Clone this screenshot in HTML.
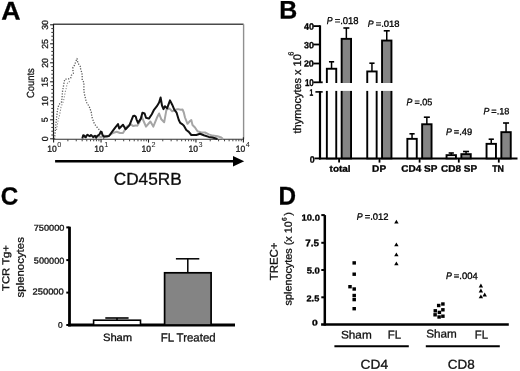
<!DOCTYPE html>
<html><head><meta charset="utf-8"><style>
html,body{margin:0;padding:0;background:#fff;}
body{width:520px;height:371px;overflow:hidden;}
svg{display:block;font-family:"Liberation Sans", sans-serif;text-rendering:geometricPrecision;will-change:transform;}
</style></head><body>
<svg width="520" height="371" viewBox="0 0 520 371">
<rect width="520" height="371" fill="#fff"/>
<text transform="translate(1.14 19.4) rotate(0.05) scale(1.0489 1)" font-size="25.44" fill="#000" stroke="#000" stroke-width="0.3"><tspan x="0" y="0" font-weight="bold">A</tspan></text>
<line x1="53.5" y1="24.3" x2="243.6" y2="24.3" stroke="#4a4a4a" stroke-width="1.6"/>
<line x1="243.6" y1="24.3" x2="243.6" y2="139.3" stroke="#909090" stroke-width="1.4"/>
<line x1="53.5" y1="23.8" x2="53.5" y2="139.8" stroke="#151515" stroke-width="1.2"/>
<line x1="53" y1="139.3" x2="243.6" y2="139.3" stroke="#303030" stroke-width="1.1"/>
<line x1="50.1" y1="138.8" x2="53.5" y2="138.8" stroke="#222" stroke-width="1.1"/>
<line x1="51.3" y1="135" x2="54" y2="135" stroke="#333" stroke-width="1.0"/>
<line x1="51.3" y1="131.2" x2="54" y2="131.2" stroke="#333" stroke-width="1.0"/>
<line x1="51.3" y1="127.4" x2="54" y2="127.4" stroke="#333" stroke-width="1.0"/>
<line x1="51.3" y1="123.6" x2="54" y2="123.6" stroke="#333" stroke-width="1.0"/>
<line x1="50.1" y1="119.8" x2="53.5" y2="119.8" stroke="#222" stroke-width="1.1"/>
<line x1="51.3" y1="116" x2="54" y2="116" stroke="#333" stroke-width="1.0"/>
<line x1="51.3" y1="112.2" x2="54" y2="112.2" stroke="#333" stroke-width="1.0"/>
<line x1="51.3" y1="108.4" x2="54" y2="108.4" stroke="#333" stroke-width="1.0"/>
<line x1="51.3" y1="104.6" x2="54" y2="104.6" stroke="#333" stroke-width="1.0"/>
<line x1="50.1" y1="100.8" x2="53.5" y2="100.8" stroke="#222" stroke-width="1.1"/>
<line x1="51.3" y1="97" x2="54" y2="97" stroke="#333" stroke-width="1.0"/>
<line x1="51.3" y1="93.2" x2="54" y2="93.2" stroke="#333" stroke-width="1.0"/>
<line x1="51.3" y1="89.4" x2="54" y2="89.4" stroke="#333" stroke-width="1.0"/>
<line x1="51.3" y1="85.6" x2="54" y2="85.6" stroke="#333" stroke-width="1.0"/>
<line x1="50.1" y1="81.8" x2="53.5" y2="81.8" stroke="#222" stroke-width="1.1"/>
<line x1="51.3" y1="78" x2="54" y2="78" stroke="#333" stroke-width="1.0"/>
<line x1="51.3" y1="74.2" x2="54" y2="74.2" stroke="#333" stroke-width="1.0"/>
<line x1="51.3" y1="70.4" x2="54" y2="70.4" stroke="#333" stroke-width="1.0"/>
<line x1="51.3" y1="66.6" x2="54" y2="66.6" stroke="#333" stroke-width="1.0"/>
<line x1="50.1" y1="62.8" x2="53.5" y2="62.8" stroke="#222" stroke-width="1.1"/>
<line x1="51.3" y1="59" x2="54" y2="59" stroke="#333" stroke-width="1.0"/>
<line x1="51.3" y1="55.2" x2="54" y2="55.2" stroke="#333" stroke-width="1.0"/>
<line x1="51.3" y1="51.4" x2="54" y2="51.4" stroke="#333" stroke-width="1.0"/>
<line x1="51.3" y1="47.6" x2="54" y2="47.6" stroke="#333" stroke-width="1.0"/>
<line x1="50.1" y1="43.8" x2="53.5" y2="43.8" stroke="#222" stroke-width="1.1"/>
<line x1="51.3" y1="40" x2="54" y2="40" stroke="#333" stroke-width="1.0"/>
<line x1="51.3" y1="36.2" x2="54" y2="36.2" stroke="#333" stroke-width="1.0"/>
<line x1="51.3" y1="32.4" x2="54" y2="32.4" stroke="#333" stroke-width="1.0"/>
<line x1="51.3" y1="28.6" x2="54" y2="28.6" stroke="#333" stroke-width="1.0"/>
<line x1="50.1" y1="24.8" x2="53.5" y2="24.8" stroke="#222" stroke-width="1.1"/>
<text transform="translate(47.94 141.35) rotate(-89.95) scale(1.0000 1)" font-size="8.8" fill="#1a1a1a" stroke="#1a1a1a" stroke-width="0.3"><tspan x="0" y="0">0</tspan></text>
<text transform="translate(47.85 122.34) rotate(-89.95) scale(1.0000 1)" font-size="8.8" fill="#1a1a1a" stroke="#1a1a1a" stroke-width="0.3"><tspan x="0" y="0">5</tspan></text>
<text transform="translate(47.94 105.96) rotate(-89.95) scale(1.0000 1)" font-size="8.8" fill="#1a1a1a" stroke="#1a1a1a" stroke-width="0.3"><tspan x="0" y="0">10</tspan></text>
<text transform="translate(47.85 86.94) rotate(-89.95) scale(1.0000 1)" font-size="8.8" fill="#1a1a1a" stroke="#1a1a1a" stroke-width="0.3"><tspan x="0" y="0">15</tspan></text>
<text transform="translate(47.94 67.84) rotate(-89.95) scale(1.0000 1)" font-size="8.8" fill="#1a1a1a" stroke="#1a1a1a" stroke-width="0.3"><tspan x="0" y="0">20</tspan></text>
<text transform="translate(47.94 48.83) rotate(-89.95) scale(1.0000 1)" font-size="8.8" fill="#1a1a1a" stroke="#1a1a1a" stroke-width="0.3"><tspan x="0" y="0">25</tspan></text>
<text transform="translate(47.94 29.79) rotate(-89.95) scale(1.0000 1)" font-size="8.8" fill="#1a1a1a" stroke="#1a1a1a" stroke-width="0.3"><tspan x="0" y="0">30</tspan></text>
<text transform="translate(34 98.08) rotate(-89.95) scale(0.9159 1)" font-size="10.31" fill="#1a1a1a" stroke="#1a1a1a" stroke-width="0.3"><tspan x="0" y="0">Counts</tspan></text>
<line x1="53.6" y1="139.3" x2="53.6" y2="142.6" stroke="#222" stroke-width="1.1"/>
<line x1="67.88" y1="139.3" x2="67.88" y2="141.3" stroke="#444" stroke-width="1.0"/>
<line x1="76.24" y1="139.3" x2="76.24" y2="141.3" stroke="#444" stroke-width="1.0"/>
<line x1="82.17" y1="139.3" x2="82.17" y2="141.3" stroke="#444" stroke-width="1.0"/>
<line x1="86.77" y1="139.3" x2="86.77" y2="141.3" stroke="#444" stroke-width="1.0"/>
<line x1="90.52" y1="139.3" x2="90.52" y2="141.3" stroke="#444" stroke-width="1.0"/>
<line x1="93.7" y1="139.3" x2="93.7" y2="141.3" stroke="#444" stroke-width="1.0"/>
<line x1="96.45" y1="139.3" x2="96.45" y2="141.3" stroke="#444" stroke-width="1.0"/>
<line x1="98.88" y1="139.3" x2="98.88" y2="141.3" stroke="#444" stroke-width="1.0"/>
<line x1="101.05" y1="139.3" x2="101.05" y2="142.6" stroke="#222" stroke-width="1.1"/>
<line x1="115.33" y1="139.3" x2="115.33" y2="141.3" stroke="#444" stroke-width="1.0"/>
<line x1="123.69" y1="139.3" x2="123.69" y2="141.3" stroke="#444" stroke-width="1.0"/>
<line x1="129.62" y1="139.3" x2="129.62" y2="141.3" stroke="#444" stroke-width="1.0"/>
<line x1="134.22" y1="139.3" x2="134.22" y2="141.3" stroke="#444" stroke-width="1.0"/>
<line x1="137.97" y1="139.3" x2="137.97" y2="141.3" stroke="#444" stroke-width="1.0"/>
<line x1="141.15" y1="139.3" x2="141.15" y2="141.3" stroke="#444" stroke-width="1.0"/>
<line x1="143.9" y1="139.3" x2="143.9" y2="141.3" stroke="#444" stroke-width="1.0"/>
<line x1="146.33" y1="139.3" x2="146.33" y2="141.3" stroke="#444" stroke-width="1.0"/>
<line x1="148.5" y1="139.3" x2="148.5" y2="142.6" stroke="#222" stroke-width="1.1"/>
<line x1="162.78" y1="139.3" x2="162.78" y2="141.3" stroke="#444" stroke-width="1.0"/>
<line x1="171.14" y1="139.3" x2="171.14" y2="141.3" stroke="#444" stroke-width="1.0"/>
<line x1="177.07" y1="139.3" x2="177.07" y2="141.3" stroke="#444" stroke-width="1.0"/>
<line x1="181.67" y1="139.3" x2="181.67" y2="141.3" stroke="#444" stroke-width="1.0"/>
<line x1="185.42" y1="139.3" x2="185.42" y2="141.3" stroke="#444" stroke-width="1.0"/>
<line x1="188.6" y1="139.3" x2="188.6" y2="141.3" stroke="#444" stroke-width="1.0"/>
<line x1="191.35" y1="139.3" x2="191.35" y2="141.3" stroke="#444" stroke-width="1.0"/>
<line x1="193.78" y1="139.3" x2="193.78" y2="141.3" stroke="#444" stroke-width="1.0"/>
<line x1="195.95" y1="139.3" x2="195.95" y2="142.6" stroke="#222" stroke-width="1.1"/>
<line x1="210.23" y1="139.3" x2="210.23" y2="141.3" stroke="#444" stroke-width="1.0"/>
<line x1="218.59" y1="139.3" x2="218.59" y2="141.3" stroke="#444" stroke-width="1.0"/>
<line x1="224.52" y1="139.3" x2="224.52" y2="141.3" stroke="#444" stroke-width="1.0"/>
<line x1="229.12" y1="139.3" x2="229.12" y2="141.3" stroke="#444" stroke-width="1.0"/>
<line x1="232.87" y1="139.3" x2="232.87" y2="141.3" stroke="#444" stroke-width="1.0"/>
<line x1="236.05" y1="139.3" x2="236.05" y2="141.3" stroke="#444" stroke-width="1.0"/>
<line x1="238.8" y1="139.3" x2="238.8" y2="141.3" stroke="#444" stroke-width="1.0"/>
<line x1="241.23" y1="139.3" x2="241.23" y2="141.3" stroke="#444" stroke-width="1.0"/>
<line x1="243.4" y1="137.3" x2="243.4" y2="142.6" stroke="#222" stroke-width="1.1"/>
<text transform="translate(47.25 151.81) rotate(0.05) scale(0.9735 1)" font-size="8.76" fill="#1a1a1a" stroke="#1a1a1a" stroke-width="0.3"><tspan x="0" y="0">10</tspan></text>
<text x="57.27" y="147.3" font-size="7.3" fill="#1a1a1a">0</text>
<text transform="translate(94.35 151.81) rotate(0.05) scale(0.9735 1)" font-size="8.76" fill="#1a1a1a" stroke="#1a1a1a" stroke-width="0.3"><tspan x="0" y="0">10</tspan></text>
<text x="104.37" y="147.3" font-size="7.3" fill="#1a1a1a">1</text>
<text transform="translate(141.45 151.81) rotate(0.05) scale(0.9735 1)" font-size="8.76" fill="#1a1a1a" stroke="#1a1a1a" stroke-width="0.3"><tspan x="0" y="0">10</tspan></text>
<text x="151.47" y="147.3" font-size="7.3" fill="#1a1a1a">2</text>
<text transform="translate(188.55 151.81) rotate(0.05) scale(0.9735 1)" font-size="8.76" fill="#1a1a1a" stroke="#1a1a1a" stroke-width="0.3"><tspan x="0" y="0">10</tspan></text>
<text x="198.57" y="147.3" font-size="7.3" fill="#1a1a1a">3</text>
<text transform="translate(235.65 151.81) rotate(0.05) scale(0.9735 1)" font-size="8.76" fill="#1a1a1a" stroke="#1a1a1a" stroke-width="0.3"><tspan x="0" y="0">10</tspan></text>
<text x="245.67" y="147.3" font-size="7.3" fill="#1a1a1a">4</text>
<line x1="55.1" y1="161.2" x2="234" y2="161.2" stroke="#000" stroke-width="2.4"/>
<polygon points="233,155.9 244.2,161.2 233,166.6" fill="#000"/>
<text transform="translate(113.73 184.73) rotate(0.05) scale(0.9999 1)" font-size="17.23" fill="#0a0a0a" stroke="#0a0a0a" stroke-width="0.3"><tspan x="0" y="0">CD45RB</tspan></text>
<polyline points="54.5,139 55.2,132 56,123 56.7,117 57.4,110.2 58.8,104.8 61.5,102 62.1,97 62.6,90.5 63.2,87.8 63.7,84.6 64.2,81.9 64.8,79.2 68,79.2 70.7,78.1 71.3,75.4 73.4,73.3 72.9,70 72.9,67.3 74.5,65.2 77,58.5 77.9,63 80.6,66.8 80.6,69.5 81.7,72.2 82.2,74.9 82.2,80.3 83.9,82.4 83.9,91 84.6,95 86.4,102.2 89.2,106.5 91.2,111.9 92,117.3 93.9,122.7 95.8,125.9 98.3,128.6 100.6,131.3 102.5,136 103.8,139" fill="none" stroke="#5a5a5a" stroke-width="1.3" stroke-linejoin="round" stroke-dasharray="1.2 1.5"/>
<polyline points="56.5,130 58,121 60,113 61,107 63.5,101 65.3,91.6 66.4,87.8 66.9,84.6 68,81.9 71.3,81.4" fill="none" stroke="#888" stroke-width="1.1" stroke-linejoin="round" stroke-dasharray="1.2 1.6"/>
<polyline points="92.5,138.6 94,136.2 97.7,136.1 99,136.6 101,137 104.8,135.6 107.1,136.5 108.9,135.7 112.9,133 116.7,131.7 120,133 123,133 126.8,126.6 130.6,124.1 133,126 135.7,125.4 137.3,125.8 139.5,122.2 141.6,116.4 144,122 146,126.6 150.4,121.5 153.3,126.6 156.9,117.8 159.1,113.5 161.3,119.3 164.2,122.2 166.4,109.8 169.3,108.4 172.2,111.3 175.1,109.8 178,109.1 180.9,109.8 182.5,109.4 183.8,112.5 185,117.5 187.5,123.8 190,121 191.3,120 192.5,125 195,127.5 197.5,131.3 201.3,132.5 205,132.5 208.8,134.4 212.5,135.6 217.5,136.3 221.3,137.5 223,139" fill="none" stroke="#a5a5a5" stroke-width="2.0" stroke-linejoin="round"/>
<polyline points="82.3,138.5 83.2,135.2 84,135.4 84.9,136.8 85.8,137.3 86.6,135.5 87.5,134.8 88.7,135.6 89.8,136.2 91,135 92.1,136 93.3,137 95,135.8 96.2,137.6 97.3,136 98.5,135.2 99.6,134.2 100.8,131.6 101.6,131.9 102.5,134.8 104,136.8 109,136 113.5,129.8 115.4,127.3 118,124.1 119.2,128.5 123,124.7 125.6,129.2 129.4,125.4 133.2,115.9 134.4,115.7 135.7,116.5 136.5,119.3 138,122.9 140.9,118.6 142.4,112.7 144.6,113.5 146,117.8 148.9,118.6 151.8,114.2 154,109.8 156.9,106.2 159.1,102.6 160.6,97.5 162,105.5 163.5,109.1 164.9,106.2 167.1,108.4 170,100.4 172.2,104.7 174.4,109.8 176.6,112.7 178.8,120 180.2,122.9 182.5,124.4 183.9,125.8 186.3,130 188.8,131.9 191.3,135 196.3,135 200,133.8 203.8,135.3 208.8,136.9 212.5,137.5 217.5,139" fill="none" stroke="#111" stroke-width="2.0" stroke-linejoin="round"/>
<text transform="translate(279.13 18.4) rotate(0.05) scale(0.9855 1)" font-size="25.29" fill="#000" stroke="#000" stroke-width="0.3"><tspan x="0" y="0" font-weight="bold">B</tspan></text>
<line x1="320" y1="25.3" x2="320" y2="82.9" stroke="#000" stroke-width="2.2"/>
<line x1="320" y1="91.2" x2="320" y2="159.4" stroke="#000" stroke-width="2.2"/>
<line x1="313.3" y1="26.1" x2="320" y2="26.1" stroke="#000" stroke-width="1.8"/>
<line x1="313.3" y1="44.5" x2="320" y2="44.5" stroke="#000" stroke-width="1.8"/>
<line x1="313.3" y1="63.5" x2="320" y2="63.5" stroke="#000" stroke-width="1.8"/>
<line x1="313.3" y1="82.3" x2="320" y2="82.3" stroke="#000" stroke-width="1.8"/>
<line x1="320" y1="82.3" x2="322.7" y2="82.3" stroke="#000" stroke-width="1.8"/>
<line x1="315.4" y1="91.9" x2="322.7" y2="91.9" stroke="#000" stroke-width="1.6"/>
<line x1="314.5" y1="158.4" x2="320" y2="158.4" stroke="#000" stroke-width="1.8"/>
<text transform="translate(304.07 29.81) rotate(0.05) scale(0.9548 1)" font-size="9.32" fill="#000" stroke="#000" stroke-width="0.3"><tspan x="0" y="0" font-weight="bold">40</tspan></text>
<text transform="translate(303.99 48.2) rotate(0.05) scale(0.9940 1)" font-size="9.02" fill="#000" stroke="#000" stroke-width="0.3"><tspan x="0" y="0" font-weight="bold">30</tspan></text>
<text transform="translate(303.89 66.61) rotate(0.05) scale(1.0082 1)" font-size="8.9" fill="#000" stroke="#000" stroke-width="0.3"><tspan x="0" y="0" font-weight="bold">20</tspan></text>
<text transform="translate(304.89 86.1) rotate(0.05) scale(0.8125 1)" font-size="9.89" fill="#000" stroke="#000" stroke-width="0.3"><tspan x="0" y="0" font-weight="bold">10</tspan></text>
<text transform="translate(309.58 95.8) rotate(0.05) scale(0.6944 1)" font-size="9.59" fill="#000" stroke="#000" stroke-width="0.3"><tspan x="0" y="0" font-weight="bold">1</tspan></text>
<text transform="translate(309.65 162.81) rotate(0.05) scale(0.9474 1)" font-size="9.32" fill="#000" stroke="#000" stroke-width="0.3"><tspan x="0" y="0" font-weight="bold">0</tspan></text>
<line x1="318.9" y1="158.4" x2="517.5" y2="158.4" stroke="#000" stroke-width="2.0"/>
<line x1="339.1" y1="158.4" x2="339.1" y2="162.6" stroke="#000" stroke-width="1.8"/>
<line x1="379.5" y1="158.4" x2="379.5" y2="162.6" stroke="#000" stroke-width="1.8"/>
<line x1="419.6" y1="158.4" x2="419.6" y2="162.6" stroke="#000" stroke-width="1.8"/>
<line x1="458.8" y1="158.4" x2="458.8" y2="162.6" stroke="#000" stroke-width="1.8"/>
<line x1="498.8" y1="158.4" x2="498.8" y2="162.6" stroke="#000" stroke-width="1.8"/>
<line x1="331.55" y1="61.8" x2="331.55" y2="68.8" stroke="#000" stroke-width="1.5"/>
<line x1="328.95" y1="61.8" x2="334.15" y2="61.8" stroke="#000" stroke-width="1.6"/>
<rect x="326.85" y="68.75" width="9.4" height="89.65" fill="#fff" stroke="#000" stroke-width="1.9"/>
<rect x="324.9" y="83" width="13.3" height="7.9" fill="#fff"/>
<line x1="346.35" y1="28" x2="346.35" y2="38.9" stroke="#000" stroke-width="1.5"/>
<line x1="343.35" y1="28" x2="349.35" y2="28" stroke="#000" stroke-width="1.6"/>
<rect x="341.65" y="38.85" width="9.4" height="119.55" fill="#858585" stroke="#000" stroke-width="1.9"/>
<rect x="339.7" y="83" width="13.3" height="7.9" fill="#fff"/>
<line x1="371.95" y1="63.2" x2="371.95" y2="71.5" stroke="#000" stroke-width="1.5"/>
<line x1="369.35" y1="63.2" x2="374.55" y2="63.2" stroke="#000" stroke-width="1.6"/>
<rect x="367.25" y="71.45" width="9.4" height="86.95" fill="#fff" stroke="#000" stroke-width="1.9"/>
<rect x="365.3" y="83" width="13.3" height="7.9" fill="#fff"/>
<line x1="386.75" y1="30.8" x2="386.75" y2="40.6" stroke="#000" stroke-width="1.5"/>
<line x1="383.75" y1="30.8" x2="389.75" y2="30.8" stroke="#000" stroke-width="1.6"/>
<rect x="382.05" y="40.55" width="9.4" height="117.85" fill="#858585" stroke="#000" stroke-width="1.9"/>
<rect x="380.1" y="83" width="13.3" height="7.9" fill="#fff"/>
<line x1="412.05" y1="133.8" x2="412.05" y2="138.9" stroke="#000" stroke-width="1.5"/>
<line x1="409.45" y1="133.8" x2="414.65" y2="133.8" stroke="#000" stroke-width="1.6"/>
<rect x="407.35" y="138.85" width="9.4" height="19.55" fill="#fff" stroke="#000" stroke-width="1.9"/>
<line x1="426.85" y1="117.2" x2="426.85" y2="124.3" stroke="#000" stroke-width="1.5"/>
<line x1="423.85" y1="117.2" x2="429.85" y2="117.2" stroke="#000" stroke-width="1.6"/>
<rect x="422.15" y="124.25" width="9.4" height="34.15" fill="#858585" stroke="#000" stroke-width="1.9"/>
<line x1="451.25" y1="153" x2="451.25" y2="155.2" stroke="#000" stroke-width="1.5"/>
<line x1="448.65" y1="153" x2="453.85" y2="153" stroke="#000" stroke-width="1.6"/>
<rect x="446.55" y="155.15" width="9.4" height="3.25" fill="#fff" stroke="#000" stroke-width="1.9"/>
<line x1="466.05" y1="151.5" x2="466.05" y2="154.2" stroke="#000" stroke-width="1.5"/>
<line x1="463.05" y1="151.5" x2="469.05" y2="151.5" stroke="#000" stroke-width="1.6"/>
<rect x="461.35" y="154.15" width="9.4" height="4.25" fill="#858585" stroke="#000" stroke-width="1.9"/>
<line x1="491.25" y1="139.2" x2="491.25" y2="143.9" stroke="#000" stroke-width="1.5"/>
<line x1="488.65" y1="139.2" x2="493.85" y2="139.2" stroke="#000" stroke-width="1.6"/>
<rect x="486.55" y="143.85" width="9.4" height="14.55" fill="#fff" stroke="#000" stroke-width="1.9"/>
<line x1="506.05" y1="123" x2="506.05" y2="132.2" stroke="#000" stroke-width="1.5"/>
<line x1="503.05" y1="123" x2="509.05" y2="123" stroke="#000" stroke-width="1.6"/>
<rect x="501.35" y="132.15" width="9.4" height="26.25" fill="#858585" stroke="#000" stroke-width="1.9"/>
<text transform="translate(326.73 24.1) rotate(0.05) scale(0.8706 1)" font-size="10.03" fill="#000" stroke="#000" stroke-width="0.3"><tspan x="0" y="0" font-style="italic">P</tspan></text>
<text transform="translate(334.64 24.1) rotate(0.05) scale(0.9583 1)" font-size="9.89" fill="#000" stroke="#000" stroke-width="0.3"><tspan x="0" y="0">=.018</tspan></text>
<text transform="translate(367.73 26.8) rotate(0.05) scale(0.9689 1)" font-size="9.01" fill="#000" stroke="#000" stroke-width="0.3"><tspan x="0" y="0" font-style="italic">P</tspan></text>
<text transform="translate(375.64 26.81) rotate(0.05) scale(1.0648 1)" font-size="8.9" fill="#000" stroke="#000" stroke-width="0.3"><tspan x="0" y="0">=.018</tspan></text>
<text transform="translate(406.53 105.3) rotate(0.05) scale(0.9242 1)" font-size="9.45" fill="#000" stroke="#000" stroke-width="0.3"><tspan x="0" y="0" font-style="italic">P</tspan></text>
<text transform="translate(414.46 105.31) rotate(0.05) scale(0.9683 1)" font-size="9.32" fill="#000" stroke="#000" stroke-width="0.3"><tspan x="0" y="0">=.05</tspan></text>
<text transform="translate(445.93 135.1) rotate(0.05) scale(0.9102 1)" font-size="9.59" fill="#000" stroke="#000" stroke-width="0.3"><tspan x="0" y="0" font-style="italic">P</tspan></text>
<text transform="translate(453.84 135.11) rotate(0.05) scale(0.9847 1)" font-size="9.46" fill="#000" stroke="#000" stroke-width="0.3"><tspan x="0" y="0">=.49</tspan></text>
<text transform="translate(483.43 114.3) rotate(0.05) scale(0.9535 1)" font-size="9.16" fill="#000" stroke="#000" stroke-width="0.3"><tspan x="0" y="0" font-style="italic">P</tspan></text>
<text transform="translate(491.35 114.31) rotate(0.05) scale(1.0170 1)" font-size="9.04" fill="#000" stroke="#000" stroke-width="0.3"><tspan x="0" y="0">=.18</tspan></text>
<text transform="translate(329.58 171.71) rotate(0.05) scale(1.0918 1)" font-size="9.12" fill="#000" stroke="#000" stroke-width="0.3"><tspan x="0" y="0" font-weight="bold">total</tspan></text>
<text transform="translate(372.12 171.8) rotate(0.05) scale(1.0849 1)" font-size="9.3" fill="#000" stroke="#000" stroke-width="0.3"><tspan x="0" y="0" font-weight="bold">DP</tspan></text>
<text transform="translate(401.29 171.71) rotate(0.05) scale(1.0546 1)" font-size="9.46" fill="#000" stroke="#000" stroke-width="0.3"><tspan x="0" y="0" font-weight="bold">CD4 SP</tspan></text>
<text transform="translate(441.09 171.71) rotate(0.05) scale(1.0576 1)" font-size="9.46" fill="#000" stroke="#000" stroke-width="0.3"><tspan x="0" y="0" font-weight="bold">CD8 SP</tspan></text>
<text transform="translate(492.2 171.8) rotate(0.05) scale(0.9512 1)" font-size="9.3" fill="#000" stroke="#000" stroke-width="0.3"><tspan x="0" y="0" font-weight="bold">TN</tspan></text>
<text transform="translate(300.9 133.47) rotate(-89.95) scale(0.9977 1)" font-size="11" fill="#111" stroke="#111" stroke-width="0.3"><tspan x="0" y="0">thymocytes x 10</tspan></text>
<text transform="translate(293.4 55.68) rotate(-89.95) scale(1.0000 1)" font-size="7.4" fill="#111" stroke="#111" stroke-width="0.3"><tspan x="0" y="0">6</tspan></text>
<text transform="translate(0.81 204.46) rotate(0.05) scale(0.9721 1)" font-size="24.86" fill="#000" stroke="#000" stroke-width="0.3"><tspan x="0" y="0" font-weight="bold">C</tspan></text>
<line x1="69.5" y1="226.7" x2="69.5" y2="326.4" stroke="#000" stroke-width="2.8"/>
<line x1="66.3" y1="227.4" x2="69.5" y2="227.4" stroke="#000" stroke-width="2.0"/>
<line x1="66.3" y1="260.1" x2="69.5" y2="260.1" stroke="#000" stroke-width="2.0"/>
<line x1="66.3" y1="292.6" x2="69.5" y2="292.6" stroke="#000" stroke-width="2.0"/>
<line x1="66.3" y1="325" x2="69.5" y2="325" stroke="#000" stroke-width="2.0"/>
<text transform="translate(33.73 230.82) rotate(0.05) scale(1.0831 1)" font-size="8.47" fill="#111" stroke="#111" stroke-width="0.3"><tspan x="0" y="0">750000</tspan></text>
<text transform="translate(33.83 263.62) rotate(0.05) scale(1.0617 1)" font-size="8.62" fill="#111" stroke="#111" stroke-width="0.3"><tspan x="0" y="0">500000</tspan></text>
<text transform="translate(32.53 294.51) rotate(0.05) scale(1.0690 1)" font-size="8.76" fill="#111" stroke="#111" stroke-width="0.3"><tspan x="0" y="0">250000</tspan></text>
<text transform="translate(57.97 327.72) rotate(0.05) scale(1.0215 1)" font-size="8.19" fill="#111" stroke="#111" stroke-width="0.3"><tspan x="0" y="0">0</tspan></text>
<line x1="68.1" y1="325" x2="235" y2="325" stroke="#000" stroke-width="2.8"/>
<line x1="117" y1="318" x2="117" y2="320" stroke="#000" stroke-width="1.5"/>
<line x1="105.3" y1="318" x2="128.6" y2="318" stroke="#000" stroke-width="1.6"/>
<rect x="93.6" y="320.2" width="46.9" height="4.8" fill="#fff" stroke="#000" stroke-width="1.6"/>
<line x1="187.8" y1="258.8" x2="187.8" y2="272.5" stroke="#000" stroke-width="1.5"/>
<line x1="175.9" y1="258.8" x2="199.3" y2="258.8" stroke="#000" stroke-width="1.5"/>
<rect x="164.6" y="272.8" width="46.5" height="52.2" fill="#848484" stroke="#000" stroke-width="1.7"/>
<text transform="translate(102.89 341.1) rotate(0.05) scale(1.0578 1)" font-size="10.62" fill="#111" stroke="#111" stroke-width="0.3"><tspan x="0" y="0">Sham</tspan></text>
<text transform="translate(160.66 341.58) rotate(0.05) scale(0.9678 1)" font-size="11.85" fill="#111" stroke="#111" stroke-width="0.3"><tspan x="0" y="0">FL Treated</tspan></text>
<text transform="translate(9.22 290.95) rotate(-89.95) scale(1.1238 1)" font-size="10.05" fill="#111" stroke="#111" stroke-width="0.3"><tspan x="0" y="0">TCR Tg+</tspan></text>
<text transform="translate(23.7 297.42) rotate(-89.95) scale(1.0757 1)" font-size="10.62" fill="#111" stroke="#111" stroke-width="0.3"><tspan x="0" y="0">splenocytes</tspan></text>
<text transform="translate(278.47 204.5) rotate(0.05) scale(0.9497 1)" font-size="25.58" fill="#000" stroke="#000" stroke-width="0.3"><tspan x="0" y="0" font-weight="bold">D</tspan></text>
<line x1="324.8" y1="215.1" x2="324.8" y2="325.6" stroke="#000" stroke-width="2.5"/>
<line x1="321.3" y1="215.1" x2="324.8" y2="215.1" stroke="#000" stroke-width="2.0"/>
<line x1="321.3" y1="242.8" x2="324.8" y2="242.8" stroke="#000" stroke-width="2.0"/>
<line x1="321.3" y1="270" x2="324.8" y2="270" stroke="#000" stroke-width="2.0"/>
<line x1="321.3" y1="297.3" x2="324.8" y2="297.3" stroke="#000" stroke-width="2.0"/>
<text transform="translate(301.51 220.62) rotate(0.05) scale(1.0962 1)" font-size="8.62" fill="#000" stroke="#000" stroke-width="0.3"><tspan x="0" y="0" font-weight="bold">10.0</tspan></text>
<text transform="translate(305.27 246.21) rotate(0.05) scale(1.0497 1)" font-size="9.46" fill="#000" stroke="#000" stroke-width="0.3"><tspan x="0" y="0" font-weight="bold">7.5</tspan></text>
<text transform="translate(306.71 273.41) rotate(0.05) scale(1.0827 1)" font-size="8.76" fill="#000" stroke="#000" stroke-width="0.3"><tspan x="0" y="0" font-weight="bold">5.0</tspan></text>
<text transform="translate(306.48 301.22) rotate(0.05) scale(1.1027 1)" font-size="8.33" fill="#000" stroke="#000" stroke-width="0.3"><tspan x="0" y="0" font-weight="bold">2.5</tspan></text>
<text transform="translate(312.09 325.42) rotate(0.05) scale(1.2364 1)" font-size="8.33" fill="#000" stroke="#000" stroke-width="0.3"><tspan x="0" y="0" font-weight="bold">0</tspan></text>
<line x1="321.1" y1="324.4" x2="508.8" y2="324.4" stroke="#000" stroke-width="2.5"/>
<rect x="352.45" y="261.2" width="3.5" height="3.4" fill="#000"/>
<rect x="352.45" y="272.5" width="3.5" height="3.4" fill="#000"/>
<rect x="348.25" y="285" width="3.5" height="3.4" fill="#000"/>
<rect x="352.45" y="287.3" width="3.5" height="3.4" fill="#000"/>
<rect x="352.45" y="293.8" width="3.5" height="3.4" fill="#000"/>
<rect x="352.45" y="297.9" width="3.5" height="3.4" fill="#000"/>
<rect x="352.45" y="307" width="3.5" height="3.4" fill="#000"/>
<rect x="441.15" y="302.3" width="3.5" height="3.4" fill="#000"/>
<rect x="436.95" y="303.8" width="3.5" height="3.4" fill="#000"/>
<rect x="441.15" y="308.1" width="3.5" height="3.4" fill="#000"/>
<rect x="433.55" y="309.1" width="3.5" height="3.4" fill="#000"/>
<rect x="437.65" y="310.7" width="3.5" height="3.4" fill="#000"/>
<rect x="433.35" y="313.1" width="3.5" height="3.4" fill="#000"/>
<rect x="441.15" y="314.5" width="3.5" height="3.4" fill="#000"/>
<rect x="437.35" y="315.3" width="3.5" height="3.4" fill="#000"/>
<polygon points="394.2,223.6 398.6,223.6 396.4,219.8" fill="#000"/>
<polygon points="394.2,246.2 398.6,246.2 396.4,242.4" fill="#000"/>
<polygon points="394.2,256.3 398.6,256.3 396.4,252.5" fill="#000"/>
<polygon points="394.2,265.3 398.6,265.3 396.4,261.5" fill="#000"/>
<polygon points="478.7,287.4 483.1,287.4 480.9,283.6" fill="#000"/>
<polygon points="478.7,292.4 483.1,292.4 480.9,288.6" fill="#000"/>
<polygon points="482.5,296.4 486.9,296.4 484.7,292.6" fill="#000"/>
<polygon points="478.7,298.3 483.1,298.3 480.9,294.5" fill="#000"/>
<text transform="translate(356.73 219.8) rotate(0.05) scale(0.9387 1)" font-size="9.3" fill="#000" stroke="#000" stroke-width="0.3"><tspan x="0" y="0" font-style="italic">P</tspan></text>
<text transform="translate(364.64 219.81) rotate(0.05) scale(1.0260 1)" font-size="9.18" fill="#000" stroke="#000" stroke-width="0.3"><tspan x="0" y="0">=.012</tspan></text>
<text transform="translate(445.93 279.1) rotate(0.05) scale(0.9242 1)" font-size="9.45" fill="#000" stroke="#000" stroke-width="0.3"><tspan x="0" y="0" font-style="italic">P</tspan></text>
<text transform="translate(453.84 279.11) rotate(0.05) scale(1.0106 1)" font-size="9.32" fill="#000" stroke="#000" stroke-width="0.3"><tspan x="0" y="0">=.004</tspan></text>
<text transform="translate(340.96 338.39) rotate(0.05) scale(1.0694 1)" font-size="11.03" fill="#111" stroke="#111" stroke-width="0.3"><tspan x="0" y="0">Sham</tspan></text>
<text transform="translate(387.86 338.5) rotate(0.05) scale(0.9936 1)" font-size="11.48" fill="#111" stroke="#111" stroke-width="0.3"><tspan x="0" y="0">FL</tspan></text>
<text transform="translate(426.17 337.59) rotate(0.05) scale(1.0366 1)" font-size="11.3" fill="#111" stroke="#111" stroke-width="0.3"><tspan x="0" y="0">Sham</tspan></text>
<text transform="translate(474.87 338.5) rotate(0.05) scale(0.9853 1)" font-size="11.48" fill="#111" stroke="#111" stroke-width="0.3"><tspan x="0" y="0">FL</tspan></text>
<line x1="334.4" y1="346.3" x2="408.8" y2="346.3" stroke="#000" stroke-width="2.0"/>
<line x1="425.8" y1="346.3" x2="499.8" y2="346.3" stroke="#000" stroke-width="2.0"/>
<text transform="translate(360.6 368.67) rotate(0.05) scale(1.0579 1)" font-size="12.99" fill="#111" stroke="#111" stroke-width="0.3"><tspan x="0" y="0">CD4</tspan></text>
<text transform="translate(447.82 368.67) rotate(0.05) scale(1.0375 1)" font-size="12.99" fill="#111" stroke="#111" stroke-width="0.3"><tspan x="0" y="0">CD8</tspan></text>
<text transform="translate(277.79 280.36) rotate(-89.95) scale(1.0152 1)" font-size="11.3" fill="#111" stroke="#111" stroke-width="0.3"><tspan x="0" y="0">TREC+</tspan></text>
<text transform="translate(291.6 305.4) rotate(-89.95) scale(1.0407 1)" font-size="10.4" fill="#111" stroke="#111" stroke-width="0.3"><tspan x="0" y="0">splenocytes (x 10</tspan></text>
<text transform="translate(286.6 221.06) rotate(-89.95) scale(1.0000 1)" font-size="6.6" fill="#111" stroke="#111" stroke-width="0.3"><tspan x="0" y="0">6</tspan></text>
<text transform="translate(291.6 215.67) rotate(-89.95) scale(1.0880 1)" font-size="10.4" fill="#111" stroke="#111" stroke-width="0.3"><tspan x="0" y="0">)</tspan></text>
</svg>
</body></html>
